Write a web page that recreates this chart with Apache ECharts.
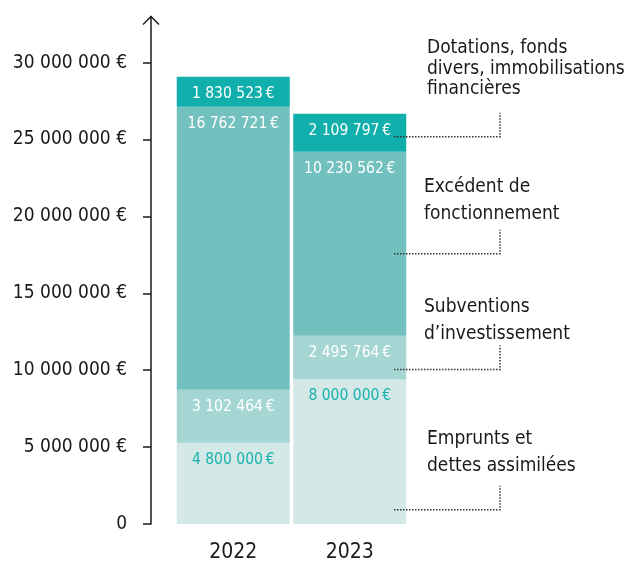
<!DOCTYPE html>
<html>
<head>
<meta charset="utf-8">
<script src="https://cdn.jsdelivr.net/npm/echarts@6/dist/echarts.min.js"></script>
<style>
  html, body { margin: 0; padding: 0; background: #fff; }
  #chart { width: 630px; height: 563px; }
</style>
</head>
<body>
<div id="chart"></div>
<script>
  var years = ['2022', '2023'];
  // bar segment heights as drawn (bottom to top)
  var emprunts    = [5290000, 9400000];
  var subventions = [3440000, 2840000];
  var excedent    = [18400000, 11970000];
  var dotations   = [1950000, 2470000];
  // printed amounts
  var empruntsText    = ['4 800 000\u2009€', '8 000 000\u2009€'];
  var subventionsText = ['3 102 464\u2009€', '2 495 764\u2009€'];
  var excedentText    = ['16 762 721\u2009€', '10 230 562\u2009€'];
  var dotationsText   = ['1 830 523\u2009€', '2 109 797\u2009€'];
  var tickValues = [0, 5000000, 10000000, 15000000, 20000000, 25000000, 30000000];
  // legend captions and where their leader lines hit the 2023 bar
  var captions = [
    ['Dotations, fonds', 'divers, immobilisations', 'financières'],
    ['Excédent de', 'fonctionnement'],
    ['Subventions', 'd\u2019investissement'],
    ['Emprunts et', 'dettes assimilées']
  ];
  var leaderValues = [25180000, 17580000, 10040000, 930000];

  var FONT = "'Liberation Sans Narrow', 'DejaVu Sans Condensed', 'Roboto Condensed', sans-serif";

  function fmtTick(v) {
    if (v === 0) return '0';
    return String(v).replace(/\B(?=(\d{3})+(?!\d))/g, ' ') + ' €';
  }

  function seg(name, data, texts, color, labelColor) {
    return {
      name: name, type: 'bar', stack: 'total', data: data,
      barWidth: 113,
      itemStyle: { color: color },
      label: {
        show: true, position: 'insideTop', distance: 9,
        color: labelColor, fontFamily: FONT, fontSize: 15.5,
        formatter: function (p) { return texts[p.dataIndex]; }
      },
      emphasis: { disabled: true }
    };
  }

  var chart = echarts.init(document.getElementById('chart'));
  var option = {
    animation: false,
    textStyle: { fontFamily: FONT },
    grid: { left: 175, right: 222, top: 16.5, bottom: 38.7 },
    xAxis: {
      type: 'category', data: years,
      axisLine: { show: false }, axisTick: { show: false },
      axisLabel: { color: '#1a1a1a', fontSize: 21, margin: 18, fontFamily: FONT }
    },
    yAxis: {
      type: 'value', min: 0, max: 33000000, interval: 5000000, offset: 24,
      splitLine: { show: false },
      axisLine: { show: true, lineStyle: { color: '#1a1a1a', width: 1.5 } },
      axisTick: { show: true, length: 8, customValues: tickValues, lineStyle: { color: '#1a1a1a', width: 1.5 } },
      axisLabel: {
        color: '#1a1a1a', fontSize: 19, margin: 24, fontFamily: FONT,
        customValues: tickValues, formatter: fmtTick
      }
    },
    series: [
      seg('Emprunts et dettes assimilées', emprunts, empruntsText, '#d4e9e7', '#19b1ac'),
      seg('Subventions d\u2019investissement', subventions, subventionsText, '#a6d6d3', '#ffffff'),
      seg('Excédent de fonctionnement', excedent, excedentText, '#72c1bf', '#ffffff'),
      seg('Dotations, fonds divers, immobilisations financières', dotations, dotationsText, '#11afab', '#ffffff')
    ]
  };
  chart.setOption(option);

  // annotations: axis arrow, captions and dotted leaders
  var axisX = 151;
  var axisTop = chart.convertToPixel({ yAxisIndex: 0 }, 33000000);
  var leaderStart = 394, leaderEnd = 500;
  var capPos = [[427, 49], [424, 185], [424, 305], [427, 437]];
  var g = [{
    type: 'polyline', z: 100,
    shape: { points: [[axisX - 8, axisTop + 8], [axisX, axisTop], [axisX + 8, axisTop + 8]] },
    style: { stroke: '#1a1a1a', lineWidth: 1.5, fill: null }
  }];
  captions.forEach(function (lines, i) {
    g.push({
      type: 'text', left: capPos[i][0], top: capPos[i][1] - 11, z: 100,
      style: { text: lines.join('\n'), font: '19px ' + FONT, fill: '#1a1a1a', lineHeight: i === 0 ? 20.5 : 27 }
    });
    var y = chart.convertToPixel({ yAxisIndex: 0 }, leaderValues[i]);
    g.push({
      type: 'polyline', z: 100,
      shape: { points: [[leaderStart, y], [leaderEnd, y], [leaderEnd, y - 24]] },
      style: { stroke: '#333', lineWidth: 1.5, lineDash: [1.5, 1.5], fill: null }
    });
  });
  chart.setOption({ graphic: g });
</script>
</body>
</html>
